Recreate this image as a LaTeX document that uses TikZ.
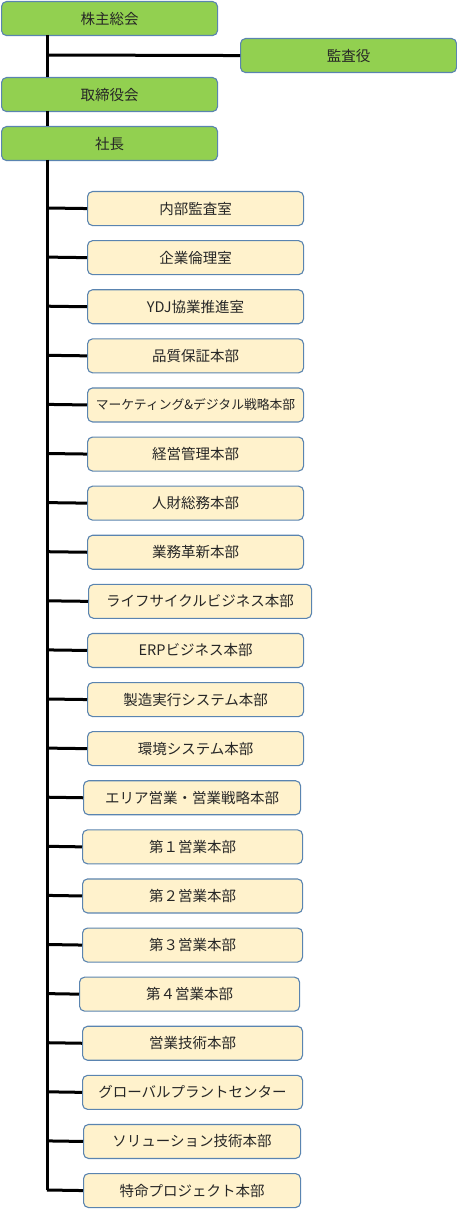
\documentclass[tikz,border=0pt]{standalone}
\usepackage{fontspec}
\setmainfont{Noto Sans CJK JP}
\usepackage{tikz}
\usetikzlibrary{arrows.meta}
\definecolor{boardgreen}{HTML}{92D050}
\definecolor{deptyellow}{HTML}{FFF2CC}
\definecolor{boxedge}{HTML}{5A84B0}

\begin{document}
\begin{tikzpicture}[x=1pt,y=-1pt,>=Latex,
  box/.style={draw=boxedge,line width=1.1pt,rounded corners=5pt,anchor=north west,
    minimum height=34pt,inner sep=0pt,text=black!85,font=\fontsize{14.5}{16}\selectfont},
  board/.style={box,fill=boardgreen,minimum width=216pt},
  dept/.style={box,fill=deptyellow},
  tree/.style={line width=3pt,black}]
\useasboundingbox (0,0) rectangle (457,1209);
% board level
\node[board] (gm) at (1,1) {株主総会};
\node[board] (audit) at (240,38) {監査役};
\node[board] (bod) at (1,77) {取締役会};
\node[board] (pres) at (1,126) {社長};
\draw[tree] (47,35) -- (47,77);
\draw[tree] (47,55) -- (audit.west);
\draw[tree] (47,111) -- (47,126);
% departments
\foreach \x/\w/\t [count=\i from 0] in {
  87/216/内部監査室, 87/216/企業倫理室, 87/216/YDJ協業推進室, 87/216/品質保証本部,
  87/216/{\fontsize{12.8}{14}\selectfont マーケティング\&デジタル戦略本部},
  87/216/経営管理本部, 87/216/人財総務本部, 87/216/業務革新本部,
  88/223/ライフサイクルビジネス本部, 87/216/ERPビジネス本部, 87/216/製造実行システム本部,
  87/216/環境システム本部, 83/217/エリア営業・営業戦略本部, 82/220/第１営業本部,
  82/220/第２営業本部, 82/220/第３営業本部, 79/220/第４営業本部, 82/220/営業技術本部,
  82/220/グローバルプラントセンター, 83/217/ソリューション技術本部, 83/217/特命プロジェクト本部}
{
  \node[dept,minimum width=\w pt] (d\i) at (\x,{191+49.1*\i}) {\t};
  \draw[tree] (47,{208+49.1*\i}) -- (d\i.west);
}
\draw[tree] (47,160) -- (47,{208+49.1*20});
\end{tikzpicture}
\end{document}
